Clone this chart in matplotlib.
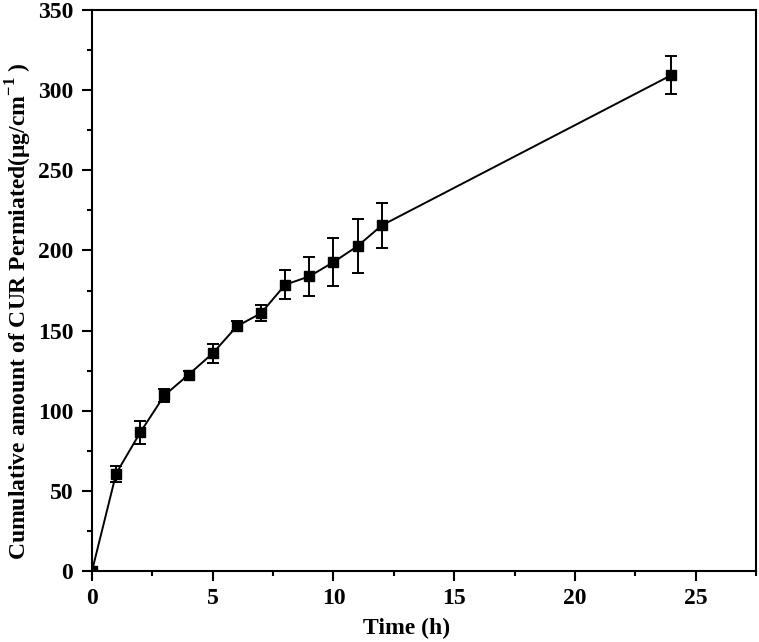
import matplotlib
matplotlib.use("Agg")
import matplotlib.pyplot as plt
from matplotlib.ticker import MultipleLocator

# Data.
time_h = [0, 1, 2, 3, 4, 5, 6, 7, 8, 9, 10, 11, 12, 24]
cur_permeated = [0, 60.8, 86.5, 109.6, 122.5, 135.8, 152.7, 160.8, 178.6, 183.8, 192.7, 202.7, 215.6, 309.4]
cur_sd = [0, 5, 7, 4, 2, 6, 3, 5, 9, 12, 15, 17, 14, 12]

plt.rcParams["font.family"] = ["Liberation Serif", "DejaVu Serif"]
plt.rcParams["font.weight"] = "bold"
plt.rcParams["mathtext.fontset"] = "custom"
plt.rcParams["mathtext.rm"] = "Liberation Serif:bold"
plt.rcParams["mathtext.bf"] = "Liberation Serif:bold"

fig = plt.figure(figsize=(7.59, 6.42), dpi=100)
ax = fig.add_axes([92 / 759, 71 / 642, 664 / 759, 561 / 642])

ax.errorbar(
    time_h,
    cur_permeated,
    yerr=cur_sd,
    color="black",
    marker="s",
    markersize=7.5,
    linewidth=1.4,
    elinewidth=1.4,
    capsize=4.5,
    capthick=1.4,
)

ax.set_xlim(0, 27.5)
ax.set_ylim(0, 350)
ax.xaxis.set_major_locator(MultipleLocator(5))
ax.xaxis.set_minor_locator(MultipleLocator(2.5))
ax.yaxis.set_major_locator(MultipleLocator(50))
ax.yaxis.set_minor_locator(MultipleLocator(25))

for side in ax.spines.values():
    side.set_linewidth(1.5)
ax.tick_params(which="major", length=7, width=1.5, labelsize=17, direction="out")
ax.tick_params(which="minor", length=3.5, width=1.5, direction="out")
ax.tick_params(axis="x", which="major", pad=5.5)
ax.tick_params(axis="y", which="major", pad=6.5)
for lab in ax.get_xticklabels() + ax.get_yticklabels():
    lab.set_fontweight("bold")

ax.set_xlabel("Time (h)", fontsize=17, fontweight="bold")
ax.set_ylabel(r"Cumulative amount of CUR Permiated(μg/cm$^{\mathbf{-1}}$ )",
              fontsize=17, fontweight="bold")
ax.xaxis.set_label_coords(0.474, -0.083)
ax.yaxis.set_label_coords(-0.088, 0.463)

fig.savefig("out.png", dpi=100)
